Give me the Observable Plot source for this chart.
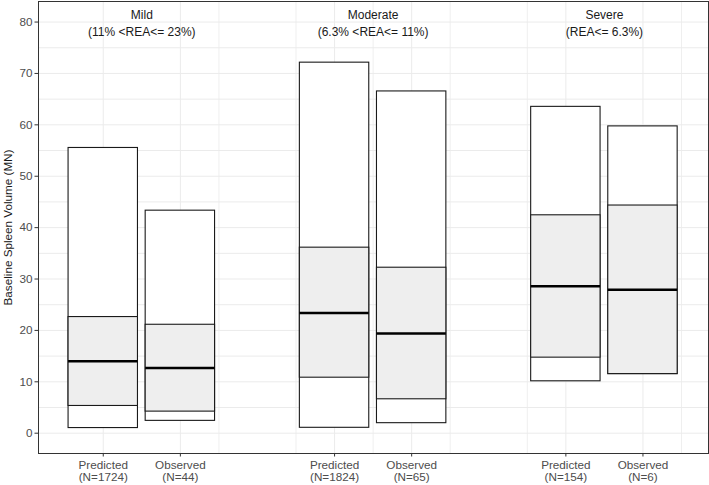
<!DOCTYPE html>
<html><head><meta charset="utf-8">
<script src="https://cdn.jsdelivr.net/npm/d3@7"></script>
<script src="https://cdn.jsdelivr.net/npm/@observablehq/plot@0.6"></script>
<style>body{margin:0;background:#fff}</style>
</head><body><div id="chart"></div>
<script>
// ---- data ----
const severities = ["Mild", "Moderate", "Severe"];
const severityRanges = ["(11% <REA<= 23%)", "(6.3% <REA<= 11%)", "(REA<= 6.3%)"];
const sources = ["Predicted", "Observed"];
const boxSeverity = ["Mild", "Mild", "Moderate", "Moderate", "Severe", "Severe"];
const boxSource = ["Predicted", "Observed", "Predicted", "Observed", "Predicted", "Observed"];
const nCounts = [1724, 44, 1824, 65, 154, 6];
const minVals = [1.0, 2.4, 1.05, 1.95, 10.1, 11.5];
const q1Vals = [5.3, 4.2, 10.8, 6.6, 14.7, 11.5];
const medianVals = [14.0, 12.7, 23.4, 19.4, 28.6, 27.9];
const q3Vals = [22.6, 21.1, 36.1, 32.2, 42.4, 44.3];
const maxVals = [55.5, 43.3, 72.1, 66.5, 63.5, 59.7];
const yTicks = [0, 10, 20, 30, 40, 50, 60, 70, 80];
const yGrid = [0, 5, 10, 15, 20, 25, 30, 35, 40, 45, 50, 55, 60, 65, 70, 75, 80];
const xMinorGrid = [2.5, 3.5, 4.5, 5.5, 6.5, 8.5];
const panelLabelY = 80;

// ---- derived table ----
const posOf = (sev, src) => severities.indexOf(sev) * 3 + sources.indexOf(src) + 1;
const boxes = boxSeverity.map((sev, i) => {
  const x = posOf(sev, boxSource[i]);
  return {
    x, x1: x - 0.45, x2: x + 0.45,
    min: minVals[i], q1: q1Vals[i], median: medianVals[i], q3: q3Vals[i], max: maxVals[i],
    label: `${boxSource[i]}\n(N=${nCounts[i]})`
  };
});
const xTicks = boxes.map(d => d.x);
const tickLabel = new Map(boxes.map(d => [d.x, d.label]));
const panels = severities.map((s, i) => ({
  x: (posOf(s, "Predicted") + posOf(s, "Observed")) / 2,
  y: panelLabelY,
  text: `${s}\n${severityRanges[i]}`
}));

const chart = Plot.plot({
  width: 709,
  height: 485,
  marginLeft: 38,
  marginRight: 1,
  marginTop: 1,
  marginBottom: 32,
  style: {fontFamily: "'Liberation Sans', Arial, sans-serif", fontSize: "11.7px", background: "#fff"},
  x: {domain: [0.16, 8.85]},
  y: {domain: [-3.95, 84.0]},
  marks: [
    Plot.ruleY(yGrid, {stroke: "#ebebeb", strokeWidth: 1}),
    Plot.ruleX(xMinorGrid, {stroke: "#ebebeb", strokeWidth: 0.8}),
    Plot.ruleX(xTicks, {stroke: "#ebebeb", strokeWidth: 1}),
    Plot.rect(boxes, {x1: "x1", x2: "x2", y1: "min", y2: "max", fill: "#fff", stroke: "#1a1a1a", strokeWidth: 1.1}),
    Plot.rect(boxes, {x1: "x1", x2: "x2", y1: "q1", y2: "q3", fill: "#eeeeee", stroke: "#1a1a1a", strokeWidth: 1.1}),
    Plot.ruleY(boxes, {y: "median", x1: "x1", x2: "x2", stroke: "#000", strokeWidth: 2.4}),
    Plot.text(panels, {x: "x", y: "y", text: "text", fill: "#1a1a1a", fontSize: 12, lineHeight: 1.39}),
    Plot.frame({stroke: "#333", strokeWidth: 1}),
    Plot.axisY(yTicks, {tickSize: 3.5, tickPadding: 2.5, stroke: "#333", color: "#4d4d4d", label: null, fontSize: 11.7}),
    Plot.text(["Baseline Spleen Volume (MN)"], {frameAnchor: "left", textAnchor: "middle", lineAnchor: "middle", rotate: -90, dx: -30, fill: "#1a1a1a", fontSize: 11.7}),
    Plot.axisX(xTicks, {tickSize: 3.5, tickPadding: 3, stroke: "#333", color: "#4d4d4d", label: null, fontSize: 11.7, lineHeight: 1.06, tickFormat: d => tickLabel.get(d)})
  ]
});
document.getElementById("chart").appendChild(chart);
</script>
</body></html>
